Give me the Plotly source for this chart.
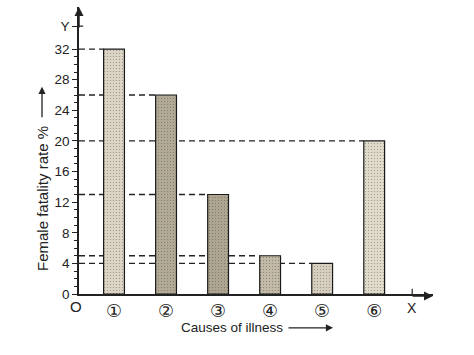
import plotly.graph_objects as go

causes = [1, 2, 3, 4, 5, 6]
cause_labels = ["①", "②", "③", "④", "⑤", "⑥"]
fatality_rate = [32, 26, 13, 5, 4, 20]
bar_colors = ["#dcd5c5", "#b3aa96", "#aea591", "#c2b9a6", "#d6cfbf", "#e0dacb"]
y_ticks = [0, 4, 8, 12, 16, 20, 24, 28, 32]

BAR_W = 0.4
X_MIN, X_MAX = 0.327, 7.13
Y_MAX = 37.5
X_MARK = 6.73
Y_MARK = 35
FONT = "Liberation Sans, Arial, DejaVu Sans, sans-serif"

fig = go.Figure()
fig.add_trace(go.Bar(
    x=causes, y=fatality_rate, width=BAR_W,
    marker=dict(color=bar_colors, line=dict(color="#1a1a1a", width=1.2),
                pattern=dict(shape=".", fgcolor="#8a8270", size=3, solidity=0.12,
                             fillmode="overlay")),
    showlegend=False, hoverinfo="skip",
))

shapes = []
for xi, v in zip(causes, fatality_rate):
    shapes.append(dict(type="line", xref="x", yref="y", x0=X_MIN, x1=xi - BAR_W / 2,
                       y0=v, y1=v, layer="below",
                       line=dict(color="#222", width=1.3, dash="6px,4px")))
# small crossing ticks at X and Y markers
shapes.append(dict(type="line", xref="x", yref="y", x0=X_MARK, x1=X_MARK, y0=-0.7, y1=0.7,
                   line=dict(color="#222", width=1.2)))
shapes.append(dict(type="line", xref="x", yref="y", x0=X_MIN - 0.08, x1=X_MIN + 0.08,
                   y0=Y_MARK, y1=Y_MARK, line=dict(color="#222", width=1.2)))

annotations = [
    # axis arrows
    dict(xref="paper", yref="paper", x=0, y=1.0, ax=0, ay=22, text="", showarrow=True,
         arrowhead=2, arrowsize=1.2, arrowwidth=1.5, arrowcolor="#222"),
    dict(xref="paper", yref="paper", x=1.0, y=-0.007, ax=-22, ay=0, text="", showarrow=True,
         arrowhead=2, arrowsize=1.2, arrowwidth=1.5, arrowcolor="#222"),
    # axis titles
    dict(xref="paper", yref="paper", x=-0.1045, y=0.331, xanchor="center", yanchor="middle",
         text="Female fatality rate %", textangle=-90, showarrow=False,
         font=dict(family=FONT, size=15, color="#222")),
    dict(xref="paper", yref="paper", x=-0.1045, y=0.722, ax=0, ay=32, text="", showarrow=True,
         arrowhead=2, arrowsize=1.1, arrowwidth=1.3, arrowcolor="#222"),
    dict(xref="paper", yref="paper", x=0.432, y=-0.118, xanchor="center", yanchor="middle",
         text="Causes of illness", showarrow=False,
         font=dict(family=FONT, size=13.5, color="#222")),
    dict(xref="paper", yref="paper", x=0.7175, y=-0.118, ax=-46, ay=0, text="", showarrow=True,
         arrowhead=2, arrowsize=1.1, arrowwidth=1.3, arrowcolor="#222"),
    # origin label
    dict(xref="paper", yref="paper", x=0, y=0, xanchor="center", yanchor="middle",
         xshift=-3, yshift=-12, text="O",
         showarrow=False, font=dict(family=FONT, size=15, color="#222")),
    # X marker label
    dict(xref="x", yref="paper", x=X_MARK, y=0, xanchor="center", yanchor="middle",
         yshift=-14, text="X",
         showarrow=False, font=dict(family=FONT, size=14, color="#222")),
]

fig.update_layout(
    width=474, height=355,
    margin=dict(l=79, r=41, t=7, b=61),
    paper_bgcolor="white", plot_bgcolor="white",
    shapes=shapes, annotations=annotations,
    font=dict(family=FONT, color="#222"),
    xaxis=dict(range=[X_MIN, X_MAX], showgrid=False, zeroline=False, automargin=False,
               showline=True, linecolor="#222", linewidth=1.5,
               tickvals=causes, ticktext=cause_labels,
               ticks="", ticklabelstandoff=0,
               tickfont=dict(family="DejaVu Sans, " + FONT, size=18, color="#222")),
    yaxis=dict(range=[0, Y_MAX], showgrid=False, zeroline=False, automargin=False,
               showline=True, linecolor="#222", linewidth=1.5,
               tickvals=y_ticks + [Y_MARK], ticktext=[str(t) for t in y_ticks] + ["Y"],
               ticks="outside", ticklen=5, tickwidth=1.2, tickcolor="#222",
               tickfont=dict(family=FONT, size=13.5, color="#222"),
               minor=dict(tickvals=list(range(0, 33)), ticks="outside", ticklen=3,
                          tickwidth=1, tickcolor="#222")),
    bargap=0.6,
)

fig.write_html("out.html", config={"displayModeBar": False},
               post_script="document.body.style.margin='0';")
